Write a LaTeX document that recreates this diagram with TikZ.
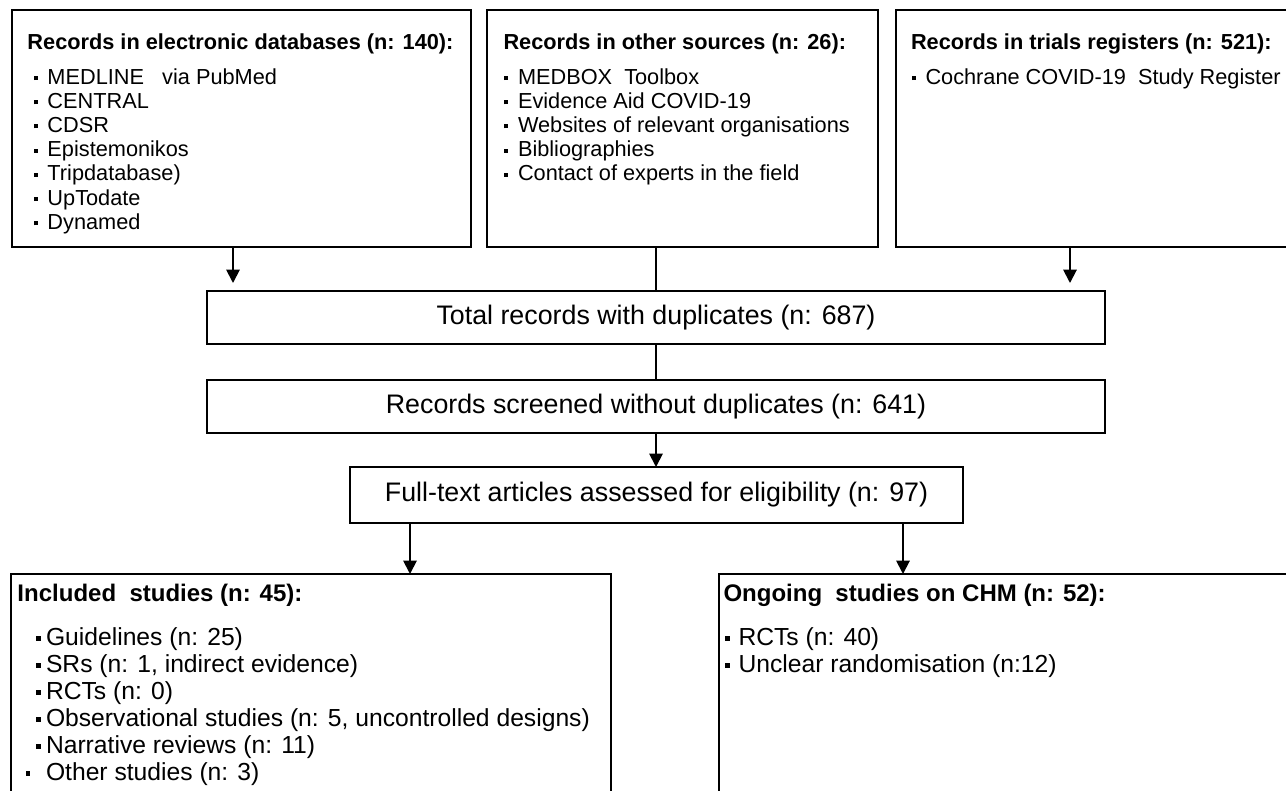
\documentclass[tikz,border=0pt]{standalone}
\usepackage{fontspec}
\setmainfont{Liberation Sans}
\usetikzlibrary{arrows.meta}

% small square bullet hanging left of the item text
\newcommand{\bul}[1][0.45em]{\makebox[0pt][r]{\raisebox{0.18em}{\rule{0.19em}{0.19em}}\hspace{#1}}}

\tikzset{every picture/.style={line width=0.75pt}}
\tikzset{
  srcbox/.style={draw, line width=1.5pt, inner sep=0pt, outer sep=0pt},
  stepbox/.style={draw, line width=1.5pt, inner sep=0pt, outer sep=0pt,
    font=\fontsize{20.1}{24}\selectfont},
  arr/.style={-{Triangle[length=10pt,width=10pt]}, line width=1.4pt},
  link/.style={line width=1.4pt},
  head/.style={anchor=base west, inner sep=0pt, font=\bfseries\fontsize{16.3}{19}\selectfont},
  items/.style={anchor=base west, inner sep=0pt, align=left,
    font=\fontsize{16.3}{18.15}\selectfont},
  headlow/.style={anchor=base west, inner sep=0pt, font=\bfseries\fontsize{18}{21}\selectfont},
  itemslow/.style={anchor=base west, inner sep=0pt, align=left,
    font=\fontsize{18.5}{20.25}\selectfont},
}

\begin{document}
\begin{tikzpicture}[x=0.75pt,y=0.75pt,yscale=-1,xscale=1]

\useasboundingbox (0,0) rectangle (1286,790);
\clip (0,0) rectangle (1286,790);
\fill[white] (0,0) rectangle (1286,790);

%Source boxes
\node[srcbox, minimum width=344.25pt, minimum height=177.75pt] (srcA) at (241.5,128.5) {};
\node[srcbox, minimum width=293.25pt, minimum height=177.75pt] (srcB) at (682.5,128.5) {};
\node[srcbox, minimum width=303pt, minimum height=177.75pt] (srcC) at (1098,128.5) {};

% Text Node (lists sit on the baseline of their last line)
\node[head] (hdA) at (27,49.5) {Records in electronic databases (n: 140):};
\node[items] (lsA) at (47,229.2) {\bul MEDLINE\ \ \ via PubMed\\ \bul CENTRAL\\ \bul CDSR\\
  \bul Epistemonikos\\ \bul Tripdatabase)\\ \bul UpTodate\\ \bul Dynamed};
% Text Node
\node[head] (hdB) at (503,49.5) {Records in other sources (n: 26):};
\node[items] (lsB) at (517.5,180.8) {\bul MEDBOX\ \ Toolbox\\ \bul Evidence Aid COVID-19\\
  \bul Websites of relevant organisations\\ \bul Bibliographies\\ \bul Contact of experts in the field};
% Text Node
\node[head] (hdC) at (910.5,49.5) {Records in trials registers (n: 521):};
\node[items] (lsC) at (925,84) {\bul Cochrane COVID-19\ \ Study Register};

%Merge steps
\node[stepbox, minimum width=673.5pt, minimum height=39.75pt] (total) at (656,317.5)
  {Total records with duplicates (n: 687)};
\node[stepbox, minimum width=673.5pt, minimum height=39.75pt] (screened) at (656,406.5)
  {Records screened without duplicates (n: 641)};
\node[stepbox, minimum width=459.75pt, minimum height=42pt] (full) at (656.5,495)
  {Full-text articles assessed for eligibility (n: 97)};

%Result boxes
\node[srcbox, minimum width=450pt, minimum height=184.5pt] (incl) at (311,697) {};
\node[srcbox, minimum width=435.75pt, minimum height=184.5pt] (ongoing) at (1009.5,697) {};

% Text Node
\node[headlow] (hdI) at (17,601.5) {Included\ \ studies (n: 45):};
\node[itemslow] (lsI) at (45.5,780) {\bul[0.22em]Guidelines (n: 25)\\
  \bul[0.22em]SRs (n: 1, indirect evidence)\\ \bul[0.22em]RCTs (n: 0)\\
  \bul[0.22em]Observational studies (n: 5, uncontrolled designs)\\
  \bul[0.22em]Narrative reviews (n: 11)\\ \bul[0.63em]Other studies (n: 3)};
% Text Node
\node[headlow] (hdO) at (723,601.5) {Ongoing\ \ studies on CHM (n: 52):};
\node[itemslow] (lsO) at (738,672) {\bul[0.34em]RCTs (n: 40)\\ \bul[0.34em]Unclear randomisation (n:12)};

%Connectors
\coordinate (tipA) at (233,283);
\coordinate (tipC) at (1070,283);
\coordinate (colI) at (410,0);
\coordinate (colO) at (903,0);

\draw[arr] (tipA |- srcA.south) -- (tipA);
\draw[link] (total.north |- srcB.south) -- (total.north);
\draw[arr] (tipC |- srcC.south) -- (tipC);
\draw[link] (total.south) -- (screened.north);
\draw[arr] (screened.south) -- (screened.south |- full.north);
\draw[arr] (colI |- full.south) -- (colI |- incl.north);
\draw[arr] (colO |- full.south) -- (colO |- ongoing.north);

\end{tikzpicture}
\end{document}
